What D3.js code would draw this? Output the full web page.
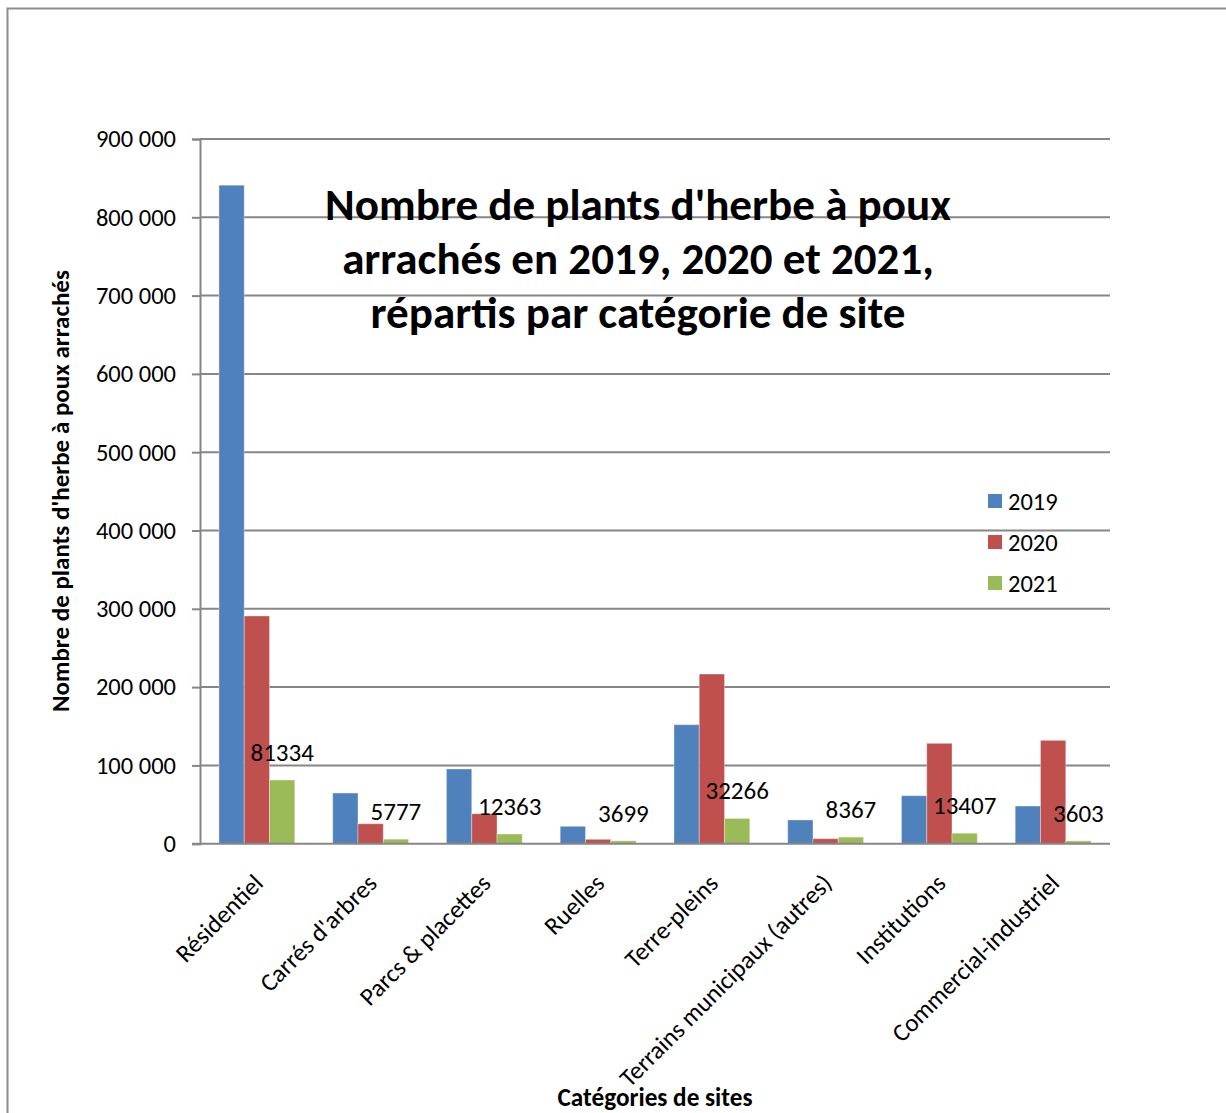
<!DOCTYPE html>
<html>
<head>
<meta charset="utf-8">
<script src="https://cdn.jsdelivr.net/npm/d3@7"></script>
<style>
  body { margin: 0; background: #fff; }
  text { font-family: Carlito, Lato, sans-serif; fill: #000; }
</style>
</head>
<body>
<script>
// Chart data
const categories = ['Résidentiel', "Carrés d'arbres", 'Parcs & placettes', 'Ruelles',
  'Terre-pleins', 'Terrains municipaux (autres)', 'Institutions', 'Commercial-industriel'];
const years = ['2019', '2020', '2021'];
const values2019 = [841000, 64700, 95400, 22200, 152000, 30300, 61300, 48100];
const values2020 = [290800, 25500, 38300, 5600, 216700, 6400, 128200, 132000];
const values2021 = [81334, 5777, 12363, 3699, 32266, 8367, 13407, 3603];
const yTicks = [0, 100000, 200000, 300000, 400000, 500000, 600000, 700000, 800000, 900000];
const titleLines = ["Nombre de plants d'herbe à poux", 'arrachés en 2019, 2020 et 2021,', 'répartis par catégorie de site'];
const colors = ['#4F81BD', '#C0504D', '#9BBB59'];

const seriesValues = [values2019, values2020, values2021];
const rows = categories.map((c, i) => ({
  cat: c,
  vals: years.map((y, j) => ({ year: y, value: seriesValues[j][i] }))
}));

const svg = d3.select('body')
  .append('svg')
  .attr('width', 1226)
  .attr('height', 1113);

svg.append('rect').attr('width', 1226).attr('height', 1113).attr('fill', '#fff');

// outer frame
svg.append('path')
  .attr('d', 'M7.5,1113 V8.5 H1226')
  .attr('fill', 'none')
  .attr('stroke', '#8c8c8c')
  .attr('stroke-width', 2);

// scales
const x = d3.scaleBand().domain(categories).range([200, 1110]);
const xInner = d3.scaleBand().domain(years).range([0, x.bandwidth()]).paddingOuter(0.75);
const y = d3.scaleLinear().domain([0, 900000]).range([843.7, 139]);
const color = d3.scaleOrdinal().domain(years).range(colors);

// fit a text element to a given width
function fitWidth(sel, target) {
  const node = sel.node();
  const fs = parseFloat(sel.attr('font-size'));
  const w = node.getComputedTextLength();
  sel.attr('font-size', (fs * target / w).toFixed(2));
}

// gridlines
svg.append('g')
  .selectAll('line')
  .data(yTicks.slice(1))
  .join('line')
  .attr('x1', 200).attr('x2', 1110)
  .attr('y1', d => y(d)).attr('y2', d => y(d))
  .attr('stroke', '#868686')
  .attr('stroke-width', 2);

// y axis
const yAxis = d3.axisLeft(y)
  .tickValues(yTicks)
  .tickSize(8)
  .tickPadding(16)
  .tickFormat(d => d3.format(',')(d).replace(/,/g, ' '));

const gy = svg.append('g')
  .attr('transform', 'translate(200,0)')
  .call(yAxis);
gy.select('.domain').attr('stroke', '#868686').attr('stroke-width', 2);
gy.selectAll('.tick line').attr('stroke', '#868686').attr('stroke-width', 2);
gy.selectAll('.tick text')
  .attr('font-size', 24.5)
  .attr('font-family', 'Carlito, Lato, sans-serif')
  .attr('fill', '#000');

// bars
const groups = svg.append('g')
  .selectAll('g')
  .data(rows)
  .join('g')
  .attr('transform', d => `translate(${x(d.cat)},0)`);

groups.selectAll('rect')
  .data(d => d.vals)
  .join('rect')
  .attr('x', d => xInner(d.year))
  .attr('y', d => y(d.value))
  .attr('width', xInner.bandwidth())
  .attr('height', d => y(0) - y(d.value))
  .attr('fill', d => color(d.year))
  .attr('stroke', 'rgba(255,255,255,0.35)')
  .attr('stroke-width', 1);

// data labels for 2021
groups.append('text')
  .attr('x', xInner('2021') + xInner.bandwidth() / 2)
  .attr('y', d => y(d.vals[2].value) - 19)
  .attr('text-anchor', 'middle')
  .attr('font-size', 25)
  .text(d => d.vals[2].value);

// x axis baseline
svg.append('line')
  .attr('x1', 192).attr('x2', 1110)
  .attr('y1', y(0)).attr('y2', y(0))
  .attr('stroke', '#868686')
  .attr('stroke-width', 2);

// category labels
svg.append('g')
  .selectAll('text')
  .data(categories)
  .join('text')
  .attr('transform', d => `translate(${x(d) + x.bandwidth() / 2 - 5},872) rotate(-45)`)
  .attr('text-anchor', 'end')
  .attr('dy', '0.72em')
  .attr('font-size', 25)
  .text(d => d);

// title
const title = svg.append('g');
titleLines.forEach((t, i) => {
  const widths = [626, 592, 535];
  const el = title.append('text')
    .attr('x', 638)
    .attr('y', 220 + i * 54)
    .attr('text-anchor', 'middle')
    .attr('font-weight', 'bold')
    .attr('font-size', 36)
    .text(t);
  fitWidth(el, widths[i]);
});

// axis titles
const yTitle = svg.append('text')
  .attr('transform', 'translate(69,491) rotate(-90)')
  .attr('text-anchor', 'middle')
  .attr('font-weight', 'bold')
  .attr('font-size', 19)
  .text("Nombre de plants d'herbe à poux arrachés");
fitWidth(yTitle, 442);

const xTitle = svg.append('text')
  .attr('x', 655)
  .attr('y', 1106)
  .attr('text-anchor', 'middle')
  .attr('font-weight', 'bold')
  .attr('font-size', 20)
  .text('Catégories de sites');
fitWidth(xTitle, 195);

// legend
const legend = svg.append('g')
  .selectAll('g')
  .data(years)
  .join('g')
  .attr('transform', (d, i) => `translate(988,${501 + i * 41})`);

legend.append('rect')
  .attr('x', 0).attr('y', -7)
  .attr('width', 14).attr('height', 14)
  .attr('fill', d => color(d));

legend.append('text')
  .attr('x', 20)
  .attr('dy', '0.35em')
  .attr('font-size', 24.5)
  .text(d => d);
</script>
</body>
</html>
